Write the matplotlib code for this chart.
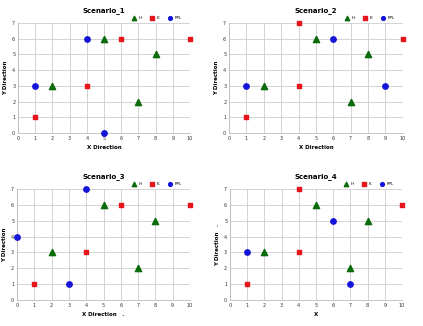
import matplotlib.pyplot as plt

# shared groups
h_x = [2, 5, 7, 8]
h_y = [3, 6, 2, 5]

k1_x = [1, 4, 6, 10]
k1_y = [1, 3, 6, 6]
k2_x = [1, 4, 4, 10]
k2_y = [1, 3, 7, 6]

ppl1_x = [1, 4, 5]
ppl1_y = [3, 6, 0]
ppl2_x = [1, 6, 9]
ppl2_y = [3, 6, 3]
ppl3_x = [0, 3, 4]
ppl3_y = [4, 1, 7]
ppl4_x = [1, 6, 7]
ppl4_y = [3, 5, 1]

titles = ['Scenario_1', 'Scenario_2', 'Scenario_3', 'Scenario_4']
xlabels = ['X Direction', 'X Direction', 'X Direction   .', 'X']
ylabels = ['Y Direction', 'Y Direction', 'Y Direction', 'Y Direction   .']
kx = [k1_x, k2_x, k1_x, k2_x]
ky = [k1_y, k2_y, k1_y, k2_y]
px = [ppl1_x, ppl2_x, ppl3_x, ppl4_x]
py = [ppl1_y, ppl2_y, ppl3_y, ppl4_y]

boxes = [
    [0.0426, 0.592, 0.4066, 0.3374],
    [0.5414, 0.592, 0.4110, 0.3374],
    [0.0402, 0.0798, 0.4090, 0.3405],
    [0.5437, 0.0798, 0.4066, 0.3405],
]

fig = plt.figure(figsize=(4.23, 3.26), dpi=100)

for i in range(4):
    ax = fig.add_axes(boxes[i])
    ax.scatter(h_x, h_y, marker='^', s=20, color='#0a6b0a', label='H', zorder=3, clip_on=False)
    ax.scatter(kx[i], ky[i], marker='s', s=11, color='#e8141c', label='K', zorder=3, clip_on=False)
    ax.scatter(px[i], py[i], marker='o', s=15, color='#1414d8', label='PPL', zorder=3, clip_on=False)
    ax.set_xlim(0, 10)
    ax.set_ylim(0, 7)
    ax.set_xticks(range(0, 11))
    ax.set_yticks(range(0, 8))
    ax.grid(True, color='#cccccc', linewidth=0.6)
    ax.set_axisbelow(True)
    for s in ax.spines.values():
        s.set_color('#bbbbbb')
        s.set_linewidth(0.6)
    ax.spines['top'].set_visible(False)
    ax.spines['right'].set_visible(False)
    ax.tick_params(labelsize=3.5, length=0, pad=2, colors='#333333')
    ax.set_title(titles[i], fontsize=5, fontweight='bold', pad=8)
    ax.set_xlabel(xlabels[i], fontsize=4, fontweight='bold', labelpad=3)
    ax.set_ylabel(ylabels[i], fontsize=4, fontweight='bold', labelpad=3)
    ax.legend(loc='lower right', bbox_to_anchor=(0.97, 1.0), ncol=3, frameon=False,
              fontsize=3, markerscale=0.7, handletextpad=0.1, columnspacing=1.5,
              borderpad=0.2)

fig.savefig('out.png', dpi=100)
